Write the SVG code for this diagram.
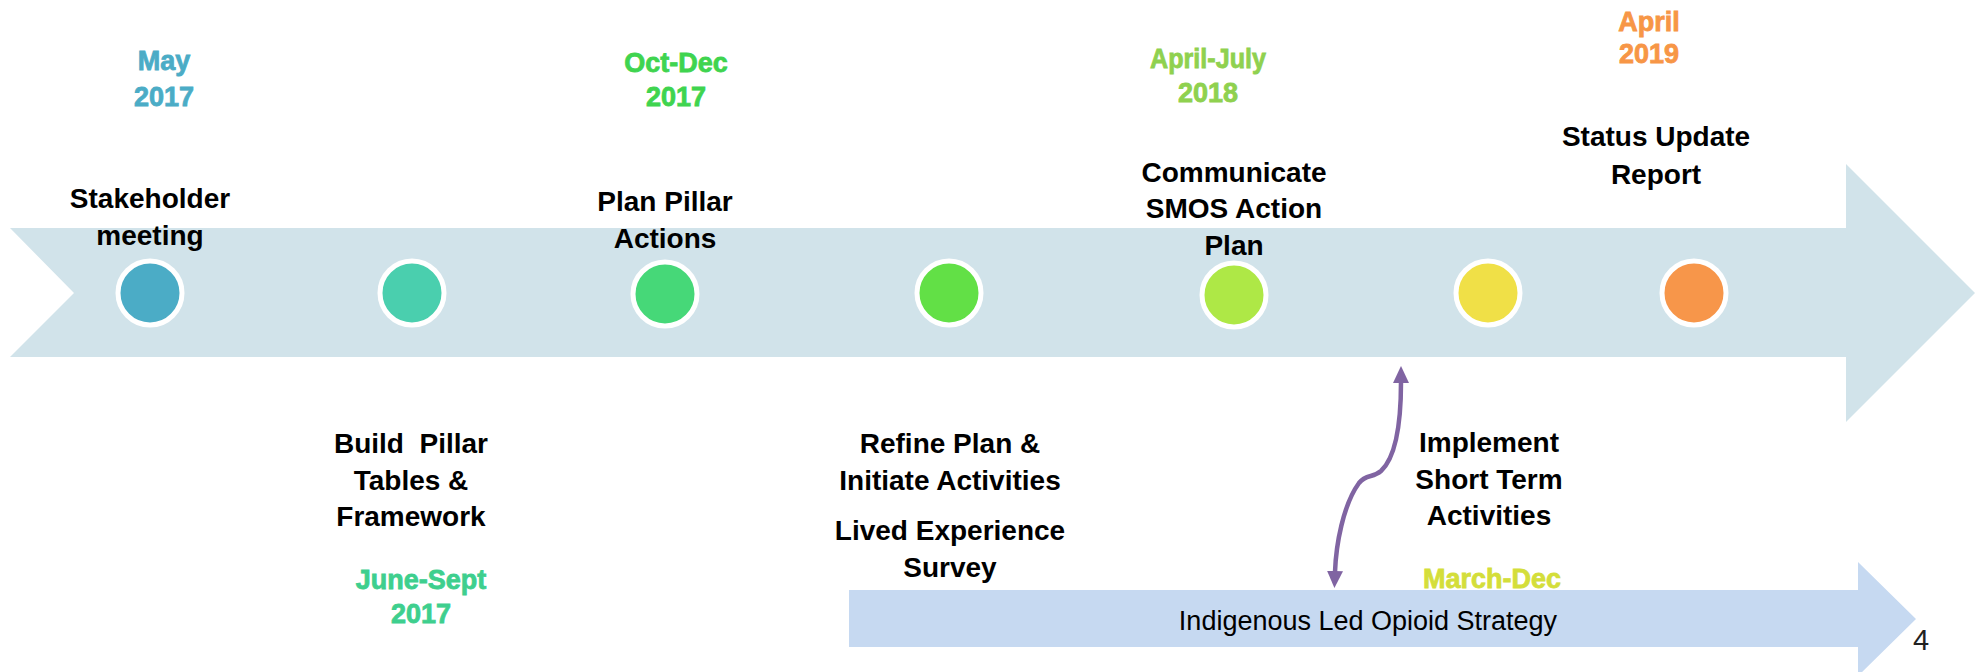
<svg xmlns="http://www.w3.org/2000/svg" width="1979" height="672" viewBox="0 0 1979 672">
<style>
.lbl{font-family:"Liberation Sans",Arial,sans-serif;font-weight:bold;font-size:28px;fill:#000;text-anchor:middle}
.date{font-family:"Liberation Sans",Arial,sans-serif;font-weight:bold;font-size:27px;text-anchor:middle;stroke-width:0.8}
.dot{stroke:#fff;stroke-width:5}
.conn{fill:none;stroke:#8064A2;stroke-width:4.5}
</style>
<defs>
<marker id="ah" viewBox="0 0 17 16" markerWidth="17" markerHeight="16" markerUnits="userSpaceOnUse" refX="1" refY="8" orient="auto-start-reverse">
<path d="M0,0 L17,8 L0,16 Z" fill="#8064A2"/>
</marker>
</defs>
<rect width="1979" height="672" fill="#fff"/>
<g id="timeline-arrow">
<path d="M10,228 L1846,228 L1846,164 L1975,293 L1846,422 L1846,357 L10,357 L74,293 Z" fill="#D1E3EA"/>
</g>
<g id="strategy-arrow">
<path d="M849,590 L1858,590 L1858,562 L1916,619 L1858,676 L1858,647 L849,647 Z" fill="#C6D9F1"/>
<text x="1368" y="630" font-family="Liberation Sans, Arial, sans-serif" font-size="27" text-anchor="middle" fill="#000">Indigenous Led Opioid Strategy</text>
</g>
<g id="m1">
<circle class="dot" cx="150" cy="293" r="32" fill="#4BACC6"/>
<text class="date" x="164" y="70" fill="#4BACC6" stroke="#4BACC6">May</text>
<text class="date" x="164" y="106" fill="#4BACC6" stroke="#4BACC6">2017</text>
<text class="lbl" x="150" y="208">Stakeholder</text>
<text class="lbl" x="150" y="245">meeting</text>
</g>
<g id="m2">
<circle class="dot" cx="412" cy="293" r="32" fill="#4ACFAE"/>
<text class="lbl" x="411" y="453" style="white-space:pre">Build  Pillar</text>
<text class="lbl" x="411" y="490">Tables &amp;</text>
<text class="lbl" x="411" y="526">Framework</text>
<text class="date" x="421" y="589" fill="#3ECF8E" stroke="#3ECF8E">June-Sept</text>
<text class="date" x="421" y="623" fill="#3ECF8E" stroke="#3ECF8E">2017</text>
</g>
<g id="m3">
<circle class="dot" cx="665" cy="294" r="32" fill="#46D878"/>
<text class="date" x="676" y="72" fill="#3FD44F" stroke="#3FD44F">Oct-Dec</text>
<text class="date" x="676" y="106" fill="#3FD44F" stroke="#3FD44F">2017</text>
<text class="lbl" x="665" y="211">Plan Pillar</text>
<text class="lbl" x="665" y="248">Actions</text>
</g>
<g id="m4">
<circle class="dot" cx="949" cy="293" r="32" fill="#62E046"/>
<text class="lbl" x="950" y="453">Refine Plan &amp;</text>
<text class="lbl" x="950" y="490">Initiate Activities</text>
<text class="lbl" x="950" y="540">Lived Experience</text>
<text class="lbl" x="950" y="577">Survey</text>
</g>
<g id="m5">
<circle class="dot" cx="1234" cy="295" r="32" fill="#AEE846"/>
<text class="date" x="1208" y="68" fill="#8FD14F" stroke="#8FD14F" textLength="116" lengthAdjust="spacingAndGlyphs">April-July</text>
<text class="date" x="1208" y="102" fill="#8FD14F" stroke="#8FD14F">2018</text>
<text class="lbl" x="1234" y="182">Communicate</text>
<text class="lbl" x="1234" y="218">SMOS Action</text>
<text class="lbl" x="1234" y="255">Plan</text>
</g>
<g id="m6">
<circle class="dot" cx="1488" cy="293" r="32" fill="#F0E047"/>
<text class="lbl" x="1489" y="452">Implement</text>
<text class="lbl" x="1489" y="489">Short Term</text>
<text class="lbl" x="1489" y="525">Activities</text>
<text class="date" x="1492" y="588" fill="#D4DE3A" stroke="#D4DE3A">March-Dec</text>
</g>
<g id="m7">
<circle class="dot" cx="1694" cy="293" r="32" fill="#F7964A"/>
<text class="date" x="1649" y="31" fill="#F79646" stroke="#F79646">April</text>
<text class="date" x="1649" y="63" fill="#F79646" stroke="#F79646">2019</text>
<text class="lbl" x="1656" y="146">Status Update</text>
<text class="lbl" x="1656" y="184">Report</text>
</g>
<g id="connectors">
<path class="conn" d="M1401,382 C1401,425 1395,458 1381,471 C1373,478 1366,474 1359,483 C1343,505 1336,545 1335,572" marker-start="url(#ah)" marker-end="url(#ah)"/>
</g>
<text x="1913" y="650" font-family="Liberation Sans, Arial, sans-serif" font-size="29" fill="#222">4</text>
</svg>
